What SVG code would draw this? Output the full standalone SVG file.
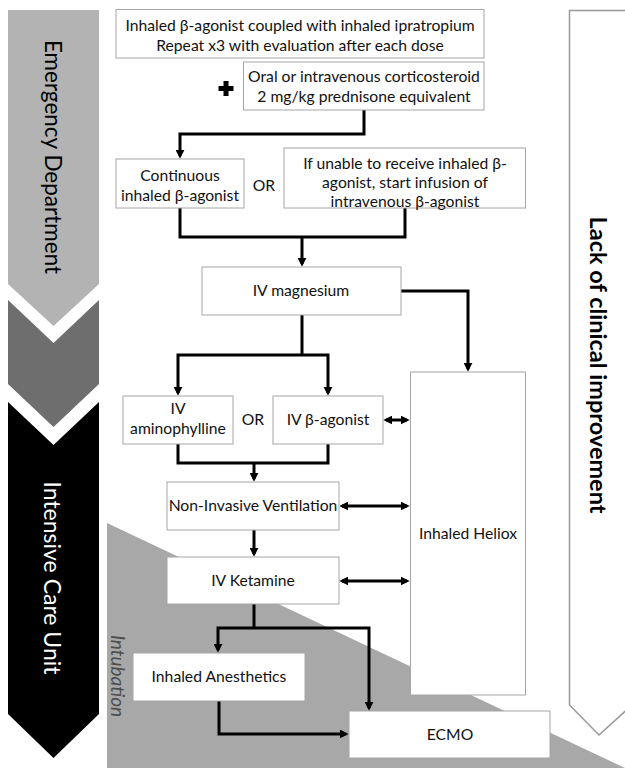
<svg xmlns="http://www.w3.org/2000/svg" width="625" height="768" viewBox="0 0 625 768">
<defs>
<marker id="ah" viewBox="0 0 10 10" refX="7" refY="5" markerWidth="3" markerHeight="3" orient="auto-start-reverse" markerUnits="strokeWidth">
<path d="M0,0 L10,5 L0,10 z" fill="#000"/>
</marker>
</defs>
<style>
.box{fill:#fff;stroke:#a6a6a6;stroke-width:1}
.t{font-family:Lato,"Liberation Sans",sans-serif;font-size:15.7px;fill:#111;text-anchor:middle}
.c{fill:none;stroke:#000;stroke-width:3;stroke-linejoin:miter}
.a{marker-end:url(#ah)}
.d{marker-start:url(#ah);marker-end:url(#ah)}
.h{font-family:Lato,"Liberation Sans",sans-serif;text-anchor:middle}
</style>
<rect width="625" height="768" fill="#fff"/>
<g id="phase-ed">
<polygon points="8,10 99,10 99,284 53.5,326 8,284" fill="#b3b3b3"/>
<text class="h" transform="translate(53,157) rotate(90)" font-size="22.5" font-weight="400" fill="#000" dominant-baseline="central">Emergency Department</text>
</g>
<g id="phase-mid">
<polygon points="8,300 53.5,343 99,300 99,384 53.5,427 8,384" fill="#6e6e6e"/>
</g>
<g id="phase-icu">
<polygon points="8,402 53.5,445 99,402 99,714 53.5,758 8,714" fill="#000"/>
<text class="h" transform="translate(53,578) rotate(90)" font-size="23" font-weight="400" fill="#fff" dominant-baseline="central">Intensive Care Unit</text>
</g>
<g id="intubation">
<polygon points="107,523 625,768 107,768" fill="#a8a8a8"/>
<text class="h" transform="translate(118,676) rotate(90)" font-size="19" font-style="italic" fill="#4d4d4d" dominant-baseline="central">Intubation</text>
</g>
<g id="lack">
<polygon points="569.5,10.5 632,10.5 632,705 599,735 569.5,705" fill="#fff" stroke="#999" stroke-width="1.5"/>
<text class="h" transform="translate(599,365) rotate(90)" font-size="23.5" font-weight="bold" fill="#000" dominant-baseline="central">Lack of clinical improvement</text>
</g>
<g id="connectors">
<path class="c a" d="M364,110 V134 H180 V156"/>
<path class="c" d="M180,208 V237 H405 V208"/>
<path class="c a" d="M302,237 V264"/>
<path class="c a" d="M401,291 H468 V369"/>
<path class="c" d="M302,315 V355"/>
<path class="c a" d="M302,355 H178 V393"/>
<path class="c a" d="M302,355 H328 V393"/>
<path class="c" d="M178,444 V463 H328 V444"/>
<path class="c a" d="M254,463 V479"/>
<path class="c d" d="M386,420 H407"/>
<path class="c d" d="M342,506 H407"/>
<path class="c d" d="M342,581 H407"/>
<path class="c a" d="M254,530 V554"/>
<path class="c" d="M254,604 V628"/>
<path class="c a" d="M254,628 H218 V650"/>
<path class="c a" d="M254,628 H369 V708"/>
<path class="c a" d="M219,701 V734 H346"/>
</g>
<g id="n-inhaled">
<rect class="box" x="116" y="9.5" width="368" height="48.5"/>
<text class="t" x="300" y="31">Inhaled β-agonist coupled with inhaled ipratropium</text>
<text class="t" x="300" y="51">Repeat x3 with evaluation after each dose</text>
</g>
<g id="n-plus">
<path d="M223.5,81 h5 v5 h5 v5 h-5 v5 h-5 v-5 h-5 v-5 h5 z" fill="#000"/>
</g>
<g id="n-steroid">
<rect class="box" x="243.5" y="62" width="240.5" height="48"/>
<text class="t" x="364" y="82">Oral or intravenous corticosteroid</text>
<text class="t" x="364" y="102">2 mg/kg prednisone equivalent</text>
</g>
<g id="n-continuous">
<rect class="box" x="116" y="159" width="128" height="49"/>
<text class="t" x="180" y="181">Continuous</text>
<text class="t" x="180" y="201">inhaled β-agonist</text>
</g>
<text id="or1" class="t" x="264" y="191">OR</text>
<g id="n-ivbeta1">
<rect class="box" x="284" y="148" width="241.5" height="60"/>
<text class="t" x="405" y="169">If unable to receive inhaled β-</text>
<text class="t" x="405" y="188">agonist, start infusion of</text>
<text class="t" x="405" y="207">intravenous β-agonist</text>
</g>
<g id="n-mag">
<rect class="box" x="202" y="267" width="199" height="48"/>
<text class="t" x="301" y="296">IV magnesium</text>
</g>
<g id="n-amino">
<rect class="box" x="123" y="396" width="110" height="48"/>
<text class="t" x="178" y="414">IV</text>
<text class="t" x="178" y="434">aminophylline</text>
</g>
<text id="or2" class="t" x="253" y="425">OR</text>
<g id="n-ivbeta2">
<rect class="box" x="273" y="396" width="110" height="48"/>
<text class="t" x="328" y="425">IV β-agonist</text>
</g>
<g id="n-heliox">
<rect class="box" x="410.5" y="372" width="115" height="323"/>
<text class="t" x="468" y="539">Inhaled Heliox</text>
</g>
<g id="n-niv">
<rect class="box" x="167" y="482" width="172" height="48"/>
<text class="t" x="253" y="511">Non-Invasive Ventilation</text>
</g>
<g id="n-ketamine">
<rect class="box" x="167" y="557" width="172" height="47"/>
<text class="t" x="253" y="586">IV Ketamine</text>
</g>
<g id="n-anesthetics">
<rect class="box" x="133" y="653" width="172" height="48"/>
<text class="t" x="219" y="682">Inhaled Anesthetics</text>
</g>
<g id="n-ecmo">
<rect class="box" x="349" y="711" width="201" height="47"/>
<text class="t" x="450" y="740">ECMO</text>
</g>
</svg>
